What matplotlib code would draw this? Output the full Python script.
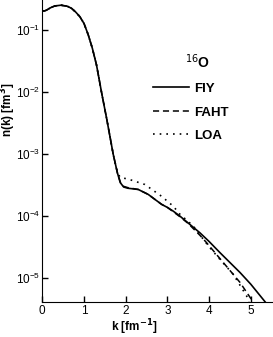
import numpy as np
import matplotlib
matplotlib.use("Agg")
import matplotlib.pyplot as plt

plt.rcParams['font.family'] = ['Liberation Sans', 'DejaVu Sans']

# momentum distributions of 16O (log10 n(k))
k_fiy = [0.0, 0.05, 0.1, 0.2, 0.3, 0.45, 0.6, 0.7, 0.8, 0.9, 1.0, 1.1, 1.2, 1.3,
         1.42, 1.55, 1.7, 1.8, 1.87, 1.95, 2.05, 2.3, 2.54, 2.86, 3.0, 3.14, 3.3,
         3.78, 4.0, 4.26, 4.74, 5.0, 5.35]
log_fiy = [-0.684, -0.688, -0.675, -0.635, -0.607, -0.595, -0.612, -0.645, -0.705,
           -0.78, -0.89, -1.07, -1.29, -1.56, -2.0, -2.45, -3.0, -3.3, -3.46,
           -3.53, -3.55, -3.57, -3.65, -3.81, -3.86, -3.92, -4.0, -4.27, -4.41,
           -4.59, -4.91, -5.1, -5.39]

k_faht = [0.0, 0.05, 0.1, 0.2, 0.3, 0.45, 0.6, 0.7, 0.8, 0.9, 1.0, 1.1, 1.2, 1.3,
          1.42, 1.55, 1.7, 1.8, 1.87, 1.95, 2.05, 2.3, 2.54, 2.86, 3.0, 3.14, 3.3,
          3.5, 3.78, 3.94, 4.34, 4.74, 5.02, 5.05]
log_faht = [-0.684, -0.688, -0.675, -0.635, -0.607, -0.595, -0.612, -0.645, -0.705,
            -0.78, -0.89, -1.07, -1.29, -1.56, -2.0, -2.45, -3.0, -3.3, -3.45,
            -3.52, -3.54, -3.57, -3.65, -3.81, -3.86, -3.93, -4.01, -4.12, -4.31,
            -4.43, -4.75, -5.07, -5.35, -5.39]

k_loa = [0.0, 0.05, 0.1, 0.2, 0.3, 0.45, 0.6, 0.7, 0.8, 0.9, 1.0, 1.1, 1.2, 1.3,
         1.42, 1.55, 1.7, 1.76, 1.8, 1.86, 2.14, 2.46, 2.86, 3.14, 3.3, 3.62,
         3.98, 4.3, 4.58, 4.9, 4.95]
log_loa = [-0.684, -0.688, -0.675, -0.635, -0.607, -0.595, -0.612, -0.645, -0.705,
           -0.78, -0.89, -1.07, -1.29, -1.56, -2.0, -2.45, -3.0, -3.18, -3.28,
           -3.37, -3.42, -3.49, -3.68, -3.84, -3.97, -4.16, -4.48, -4.73, -4.94,
           -5.29, -5.39]

fig = plt.figure(figsize=(2.73, 3.37), dpi=100)
ax = fig.add_axes([42.3 / 273, 35 / 337, 41.7 * 5.5 / 273, 302 / 337])

ax.semilogy(k_fiy, 10 ** np.array(log_fiy), color='black', lw=1.2, label='FIY')
ax.semilogy(k_faht, 10 ** np.array(log_faht), color='black', lw=1.1,
            dashes=(4, 2.5), label='FAHT')
ax.semilogy(k_loa, 10 ** np.array(log_loa), color='black', lw=1.2,
            dashes=(1, 3), label='LOA')

ax.set_xlim(0, 5.5)
ax.set_ylim(10 ** -5.387, 10 ** -0.511)
ax.set_xticks([0, 1, 2, 3, 4, 5])
ax.set_yticks([1e-5, 1e-4, 1e-3, 1e-2, 1e-1])
ax.yaxis.set_minor_locator(matplotlib.ticker.NullLocator())
ax.tick_params(direction='in', length=4, width=1, labelsize=8.5)
ax.tick_params(axis='x', pad=2.5)
ax.tick_params(axis='y', pad=1.5)
ax.spines['top'].set_visible(False)
ax.spines['right'].set_visible(False)

fig.text(134 / 273, 1 - 327 / 337, 'k [fm$^{\\mathbf{-1}}$]', fontsize=8.5,
         fontweight='bold', ha='center', va='center')
fig.text(8.5 / 273, 1 - 110 / 337, 'n(k) [fm$^{\\mathbf{3}}$]', fontsize=8.5,
         fontweight='bold', ha='center', va='center', rotation=90)

fig.text(185 / 273, 1 - 62 / 337, '$^{16}$O', fontsize=10, fontweight='bold',
         va='center', ha='left')
leg = fig.legend(loc='upper left', bbox_to_anchor=(141 / 273, 1 - 71 / 337),
                 frameon=False, handlelength=2.7, handletextpad=0.4,
                 labelspacing=0.85, prop={'weight': 'bold', 'size': 9.5})

fig.savefig('out.png', dpi=100)
